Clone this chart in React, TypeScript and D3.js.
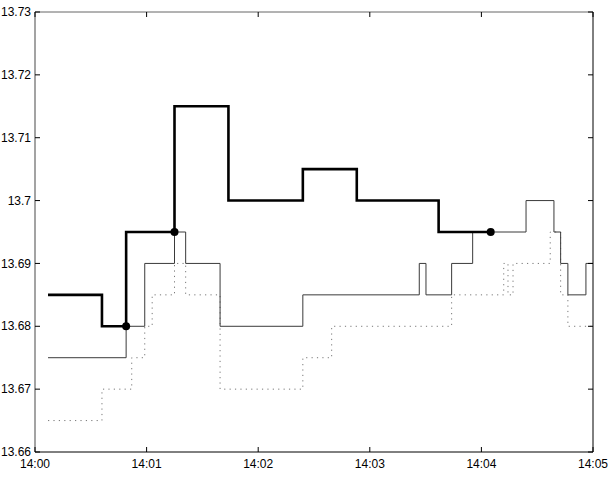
import React from "react";
import * as d3 from "d3";

// time in seconds after 14:00; each value holds until the next time (step-after)
const thickTimes = [7, 36, 49, 75, 104, 144, 173, 217, 245];
const thickValues = [13.685, 13.68, 13.695, 13.715, 13.7, 13.705, 13.7, 13.695, 13.695];

const markerTimes = [49, 75, 245];
const markerValues = [13.68, 13.695, 13.695];

const thinTimes = [7, 49, 59, 75, 81, 99.5, 144, 206.6, 210.2, 224, 235.3, 264, 279, 282.6, 286.5, 296.2, 300];
const thinValues = [13.675, 13.68, 13.69, 13.695, 13.69, 13.68, 13.685, 13.69, 13.685, 13.69, 13.695, 13.7, 13.695, 13.69, 13.685, 13.69, 13.69];

const dottedTimes = [7, 36, 52, 59, 63, 75, 81, 99.5, 144, 159.5, 224, 252, 254.3, 257, 277, 282.6, 286.5, 300];
const dottedValues = [13.665, 13.67, 13.675, 13.68, 13.685, 13.69, 13.685, 13.67, 13.675, 13.68, 13.685, 13.69, 13.685, 13.69, 13.695, 13.685, 13.68, 13.68];

const xTickValues = [0, 60, 120, 180, 240, 300];
const xTickLabels = ["14:00", "14:01", "14:02", "14:03", "14:04", "14:05"];
const yTickValues = [13.66, 13.67, 13.68, 13.69, 13.7, 13.71, 13.72, 13.73];
const yTickLabels = ["13.66", "13.67", "13.68", "13.69", "13.7", "13.71", "13.72", "13.73"];

const W = 613;
const H = 492;
const L = 35, R = 593, T = 12, B = 452;

export default function App() {
  const x = d3.scaleLinear().domain([0, 300]).range([L, R]);
  const y = d3.scaleLinear().domain([13.66, 13.73]).range([B, T]);
  const line = d3
    .line<[number, number]>()
    .x((d) => x(d[0]))
    .y((d) => y(d[1]))
    .curve(d3.curveStepAfter);
  const pts = (ts: number[], vs: number[]) => ts.map((t, i) => [t, vs[i]] as [number, number]);
  const font = "'Liberation Sans', Arial, Helvetica, sans-serif";
  const tl = 5;
  return (
    <svg width={W} height={H} style={{ position: "absolute", left: 0, top: 0, background: "#fff" }}>
      <defs>
        <clipPath id="plot">
          <rect x={L} y={T} width={R - L} height={B - T} />
        </clipPath>
      </defs>
      <rect x={0} y={0} width={W} height={H} fill="#fff" />
      <g clipPath="url(#plot)">
        <path d={line(pts(dottedTimes, dottedValues)) || ""} fill="none" stroke="#777" strokeWidth={1} strokeDasharray="1.2,4.2" />
        <path d={line(pts(thinTimes, thinValues)) || ""} fill="none" stroke="#3a3a3a" strokeWidth={1} />
        <path d={line(pts(thickTimes, thickValues)) || ""} fill="none" stroke="#000" strokeWidth={2.6} />
        {markerTimes.map((t, i) => (
          <circle key={i} cx={x(t)} cy={y(markerValues[i])} r={4} fill="#000" />
        ))}
      </g>
      {/* box */}
      <line x1={L} y1={T} x2={R} y2={T} stroke="#666" strokeWidth={1} />
      <line x1={L} y1={T} x2={L} y2={B} stroke="#666" strokeWidth={1.2} />
      <line x1={L} y1={B} x2={R} y2={B} stroke="#000" strokeWidth={1} />
      <line x1={R} y1={T} x2={R} y2={B} stroke="#000" strokeWidth={1} />
      {/* x ticks */}
      {xTickValues.map((v, i) => (
        <g key={"x" + i}>
          <line x1={x(v)} x2={x(v)} y1={B} y2={B - tl} stroke="#000" strokeWidth={1} />
          <line x1={x(v)} x2={x(v)} y1={T} y2={T + tl} stroke="#000" strokeWidth={1} />
          <text x={x(v)} y={B + 16} fontFamily={font} fontSize={12} textAnchor="middle" fill="#000">
            {xTickLabels[i]}
          </text>
        </g>
      ))}
      {/* y ticks */}
      {yTickValues.map((v, i) => (
        <g key={"y" + i}>
          <line x1={L} x2={L + tl} y1={y(v)} y2={y(v)} stroke="#000" strokeWidth={1} />
          <line x1={R} x2={R - tl} y1={y(v)} y2={y(v)} stroke="#000" strokeWidth={1} />
          <text x={L - 4} y={y(v)} dy="0.35em" fontFamily={font} fontSize={12} textAnchor="end" fill="#000">
            {yTickLabels[i]}
          </text>
        </g>
      ))}
    </svg>
  );
}
